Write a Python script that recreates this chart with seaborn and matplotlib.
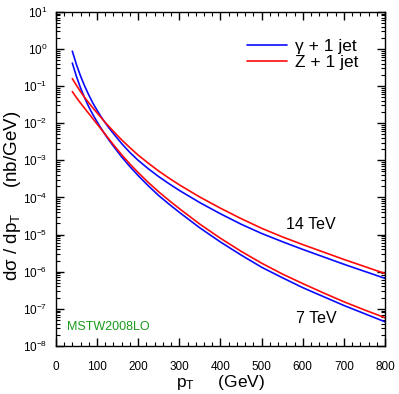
import numpy as np
import pandas as pd
import matplotlib
matplotlib.use("Agg")
import matplotlib.pyplot as plt
import matplotlib.ticker as mticker
import seaborn as sns

# transverse momentum grid (GeV) and cross sections (log10 of nb/GeV)
pt = [40, 50, 60, 70, 80, 90, 100, 110, 120, 130, 140, 160, 180, 200, 225, 250, 275, 300,
      350, 400, 450, 500, 550, 600, 650, 700, 750, 800]
gamma_14_log10 = [-0.06, -0.42, -0.73, -1.00, -1.24, -1.46, -1.65, -1.83, -1.99, -2.14, -2.28,
                  -2.55, -2.79, -3.00, -3.23, -3.44, -3.63, -3.81, -4.14, -4.44, -4.72, -4.97,
                  -5.19, -5.40, -5.60, -5.80, -5.99, -6.18]
z_14_log10 = [-0.80, -0.98, -1.15, -1.31, -1.45, -1.59, -1.72, -1.85, -1.98, -2.10, -2.22,
              -2.45, -2.66, -2.86, -3.08, -3.29, -3.48, -3.66, -3.99, -4.29, -4.57, -4.83,
              -5.06, -5.27, -5.47, -5.67, -5.86, -6.05]
gamma_7_log10 = [-0.38, -0.74, -1.05, -1.32, -1.56, -1.77, -1.96, -2.14, -2.31, -2.47, -2.62,
                 -2.91, -3.17, -3.41, -3.69, -3.95, -4.18, -4.40, -4.82, -5.20, -5.55, -5.88,
                 -6.16, -6.43, -6.67, -6.91, -7.13, -7.35]
z_7_log10 = [-1.15, -1.31, -1.46, -1.60, -1.74, -1.88, -2.02, -2.16, -2.30, -2.44, -2.58,
             -2.85, -3.10, -3.33, -3.60, -3.85, -4.08, -4.30, -4.72, -5.10, -5.45, -5.77,
             -6.06, -6.32, -6.57, -6.81, -7.03, -7.24]

labels = ["\u03b3 + 1 jet", "Z + 1 jet"]
energies = ["14 TeV", "7 TeV"]

rows = []
for proc, e, vals in [(labels[0], energies[0], gamma_14_log10), (labels[1], energies[0], z_14_log10),
                      (labels[0], energies[1], gamma_7_log10), (labels[1], energies[1], z_7_log10)]:
    for x, v in zip(pt, vals):
        rows.append({"pt": x, "val": 10.0 ** v, "process": proc, "energy": e})
df = pd.DataFrame(rows)

sns.set_style("ticks")
plt.rcParams["font.family"] = ["Liberation Sans", "DejaVu Sans"]
plt.rcParams["mathtext.default"] = "regular"
plt.rcParams["text.color"] = "black"
plt.rcParams["axes.labelcolor"] = "black"
plt.rcParams["xtick.color"] = "black"
plt.rcParams["ytick.color"] = "black"

fig = plt.figure(figsize=(3.99, 3.94), dpi=100)
ax = fig.add_axes([0.140, 0.122, 0.825, 0.848])

sns.lineplot(data=df, x="pt", y="val", hue="process", units="energy", estimator=None,
             palette={labels[0]: "#0a0aff", labels[1]: "#ff0a0a"}, linewidth=1.2, ax=ax)

ax.set_yscale("log")
ax.set_xlim(0, 800)
ax.set_ylim(1e-8, 10)
ax.xaxis.set_major_locator(mticker.MultipleLocator(100))
ax.xaxis.set_minor_locator(mticker.MultipleLocator(20))
ax.yaxis.set_major_locator(mticker.LogLocator(base=10, numticks=20))
ax.yaxis.set_minor_locator(mticker.LogLocator(base=10, subs=np.arange(2, 10), numticks=20))
ax.yaxis.set_minor_formatter(mticker.NullFormatter())
ax.tick_params(which="both", direction="in", top=True, right=True, labelsize=8.5,
               color="black", labelcolor="black")
ax.tick_params(which="major", length=6, width=1)
ax.tick_params(which="minor", length=3, width=0.8)
ax.tick_params(axis="x", which="major", pad=11)
ax.tick_params(axis="y", which="major", pad=6)
for s in ax.spines.values():
    s.set_linewidth(1.0)
    s.set_color("black")

ax.set_xlabel("p$_T$     (GeV)", fontsize=12.5, labelpad=0, color="black")
ax.set_ylabel("d\u03c3 / dp$_T$     (nb/GeV)", fontsize=13.5, labelpad=3, color="black")
ax.yaxis.set_label_coords(-0.10, 0.45)

ax.text(620, 1.9e-5, "14 TeV", ha="center", va="center", fontsize=11.5, color="black")
ax.text(633, 5.4e-8, "7 TeV", ha="center", va="center", fontsize=11.5, color="black")
ax.text(28, 3.3e-8, "MSTW2008LO", ha="left", va="center", fontsize=9, color="#1a9a1a")

leg = ax.legend(title=None, frameon=False, loc="upper right", bbox_to_anchor=(0.965, 0.965),
                fontsize=12.5, handlelength=2.3, handletextpad=0.45, labelspacing=0.05)
for t in leg.get_texts():
    t.set_color("black")

fig.savefig("out.png", dpi=100)
